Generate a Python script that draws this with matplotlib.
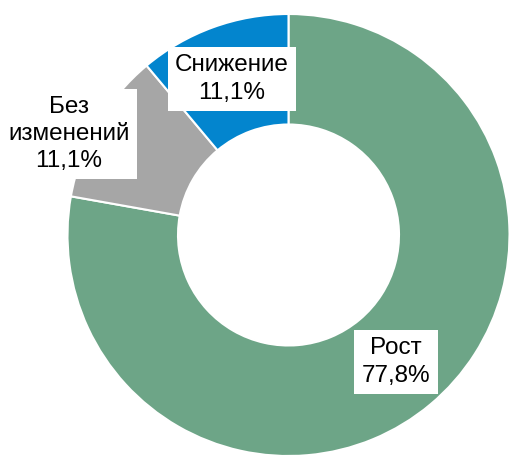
import matplotlib.pyplot as plt

# dados
categorias = ['Рост', 'Без\nизменений', 'Снижение']
valores = [77.8, 11.1, 11.1]
cores = ['#6DA587', '#A6A6A6', '#0385CE']

plt.rcParams['font.family'] = ['Liberation Sans', 'DejaVu Sans']

fig = plt.figure(figsize=(5.10, 4.59), dpi=100)
ax = fig.add_axes([0, 0, 1, 1])

# rosca (donut)
cx, cy, raio = 288.5, 224, 221
fatias, _ = ax.pie(
    valores,
    colors=cores,
    startangle=90,
    counterclock=False,
    center=(cx, cy),
    radius=raio,
    wedgeprops=dict(width=raio * 0.5, edgecolor='white', linewidth=1.5),
    frame=True,
)
ax.set_xlim(0, 510)
ax.set_ylim(0, 459)
ax.set_aspect('equal')
ax.axis('off')

# rótulos com caixa branca
posicoes = [(396, 97), (69, 325), (232, 380)]
for nome, valor, (x, y) in zip(categorias, valores, posicoes):
    ax.text(
        x, y, f'{nome}\n{valor:.1f}%'.replace('.', ','),
        ha='center', va='center', fontsize=17.5, linespacing=1.3,
        bbox=dict(boxstyle='square,pad=0.3', facecolor='white', edgecolor='none'),
    )

fig.savefig('out.png', dpi=100)
